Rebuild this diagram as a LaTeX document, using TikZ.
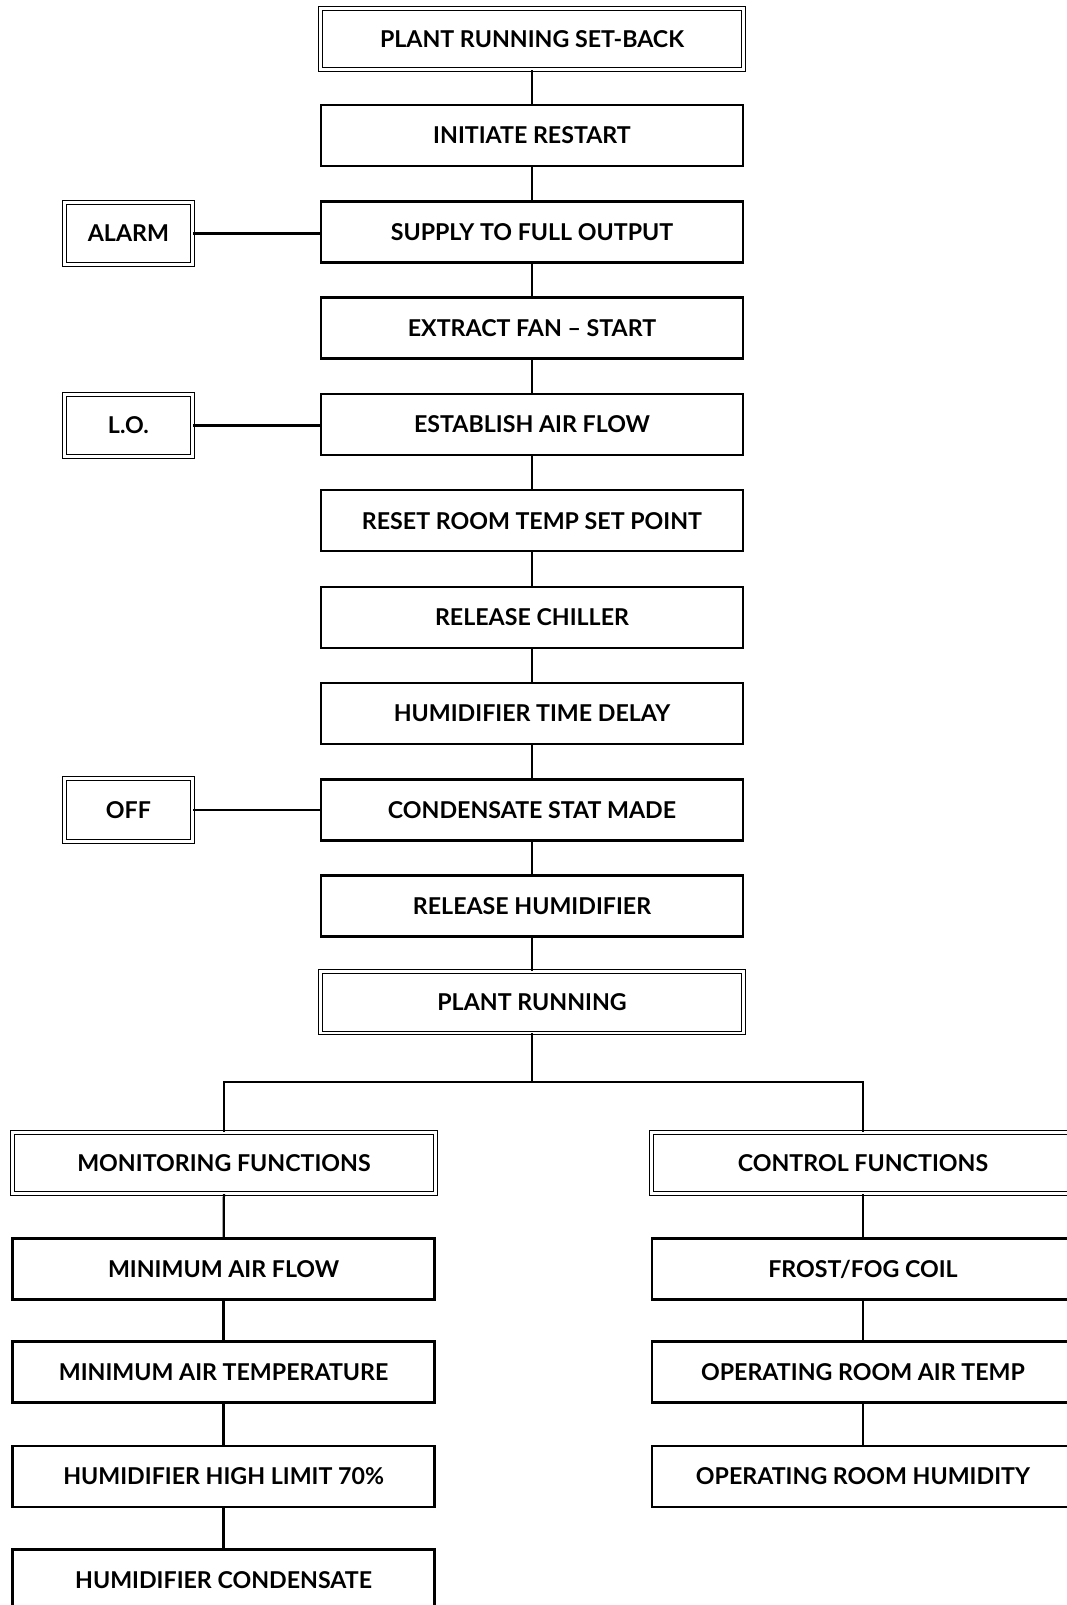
\documentclass[tikz,border=0pt]{standalone}
\usepackage{fontspec}
\setmainfont{Lato}
\usepackage{xcolor}

\tikzset{
  stepbox/.style={draw, line width=1.6pt, minimum width=10.55cm, minimum height=1.525cm,
    inner sep=0pt, font=\fontsize{16.5}{20}\selectfont\bfseries},
  headbox/.style={draw, double, double distance=2.1pt, line width=0.65pt,
    minimum width=10.57cm, minimum height=1.53cm, inner sep=0pt,
    font=\fontsize{16.5}{20}\selectfont\bfseries},
  sidebox/.style={headbox, minimum width=3.21cm, minimum height=1.56cm},
  link/.style={line width=1.6pt}
}

\begin{document}
\begin{tikzpicture}
                \useasboundingbox (0,0) rectangle (26.675,-40.125);

                \node[headbox] (setback) at (13.3,-0.975) {PLANT RUNNING SET-BACK};
                \node[stepbox] (restart) at (13.3,-3.3875) {INITIATE RESTART};
                \node[stepbox] (supply) at (13.3,-5.8) {SUPPLY TO FULL OUTPUT};
                \node[stepbox] (fan) at (13.3,-8.2) {EXTRACT FAN -- START};
                \node[stepbox] (airflow) at (13.3,-10.61) {ESTABLISH AIR FLOW};
                \node[stepbox] (setpoint) at (13.3,-13.02) {RESET ROOM TEMP SET POINT};
                \node[stepbox] (chiller) at (13.3,-15.43) {RELEASE CHILLER};
                \node[stepbox] (delay) at (13.3,-17.84) {HUMIDIFIER TIME DELAY};
                \node[stepbox] (stat) at (13.3,-20.25) {CONDENSATE STAT MADE};
                \node[stepbox] (humid) at (13.3,-22.65) {RELEASE HUMIDIFIER};
                \node[headbox] (running) at (13.3,-25.06) {PLANT RUNNING};

                \node[sidebox] (alarm) at (3.21,-5.84) {ALARM};
                \node[sidebox] (lo) at (3.21,-10.64) {L.O.};
                \node[sidebox] (off) at (3.21,-20.25) {OFF};

                \coordinate (split) at (13.3,-27.05);

                \node[headbox] (monitor) at (5.6,-29.075) {MONITORING FUNCTIONS};
                \node[stepbox] (minflow) at (5.59,-31.725) {MINIMUM AIR FLOW};
                \node[stepbox] (mintemp) at (5.59,-34.3) {MINIMUM AIR TEMPERATURE};
                \node[stepbox] (highlimit) at (5.59,-36.91) {HUMIDIFIER HIGH LIMIT 70\%};
                \node[stepbox] (condensate) at (5.59,-39.5) {HUMIDIFIER CONDENSATE};

                \node[headbox] (control) at (21.575,-29.075) {CONTROL FUNCTIONS};
                \node[stepbox] (frost) at (21.575,-31.725) {FROST/FOG COIL};
                \node[stepbox] (roomtemp) at (21.575,-34.3) {OPERATING ROOM AIR TEMP};
                \node[stepbox] (roomhum) at (21.575,-36.91) {OPERATING ROOM HUMIDITY};

                \draw[link] (setback) -- (restart);
                \draw[link] (restart) -- (supply);
                \draw[link] (supply) -- (fan);
                \draw[link] (fan) -- (airflow);
                \draw[link] (airflow) -- (setpoint);
                \draw[link] (setpoint) -- (chiller);
                \draw[link] (chiller) -- (delay);
                \draw[link] (delay) -- (stat);
                \draw[link] (stat) -- (humid);
                \draw[link] (humid) -- (running);

                \draw[link] (alarm.east) -- (alarm.east -| supply.west);
                \draw[link] (lo.east) -- (lo.east -| airflow.west);
                \draw[link] (off) -- (stat);

                \draw[link] (running) -- (split);
                \draw[link] (monitor) |- (split) -| (control);

                \draw[link] (monitor) -- (minflow);
                \draw[link] (minflow) -- (mintemp);
                \draw[link] (mintemp) -- (highlimit);
                \draw[link] (highlimit) -- (condensate);

                \draw[link] (control) -- (frost);
                \draw[link] (frost) -- (roomtemp);
                \draw[link] (roomtemp) -- (roomhum);
            \end{tikzpicture}
\end{document}
